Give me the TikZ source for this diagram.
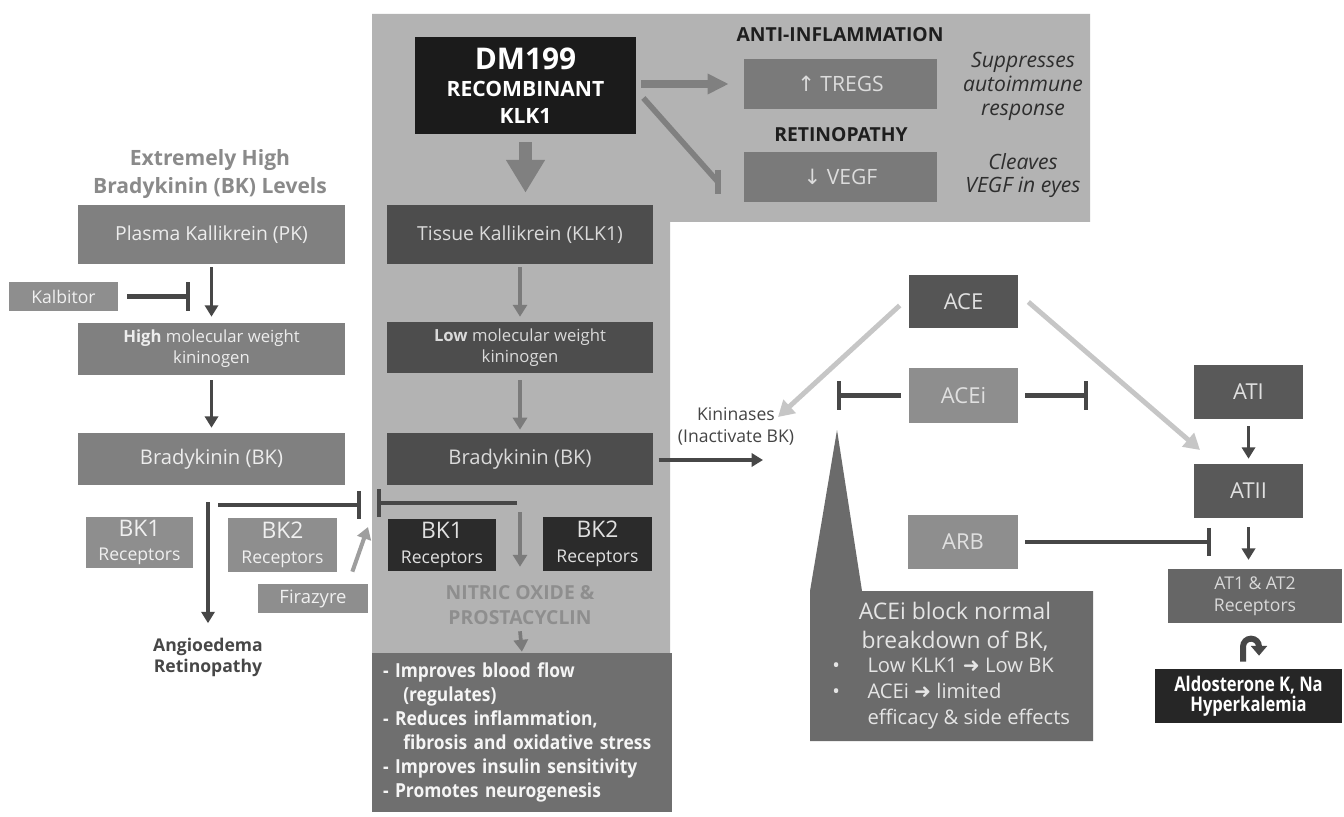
\documentclass[tikz,border=0pt]{standalone}
\usepackage{fontspec}
\setmainfont{Open Sans}
\newfontfamily\symfont{DejaVu Sans}
\newfontfamily\condfont[FakeStretch=0.82]{Open Sans}
\newfontfamily\narrowfont[FakeStretch=0.9]{Open Sans}
\usetikzlibrary{arrows.meta,calc}

\definecolor{panel}{HTML}{B3B3B3}
\definecolor{dmfill}{HTML}{1B1B1B}
\definecolor{tgfill}{HTML}{7A7A7A}
\definecolor{tgtext}{HTML}{DCDCDC}
\definecolor{plfill}{HTML}{808080}
\definecolor{pltext}{HTML}{EDEDED}
\definecolor{kfill}{HTML}{8E8E8E}
\definecolor{ktext}{HTML}{F0F0F0}
\definecolor{tkfill}{HTML}{4D4D4D}
\definecolor{tktext}{HTML}{DADADA}
\definecolor{rmfill}{HTML}{2B2B2B}
\definecolor{rmtext}{HTML}{E0E0E0}
\definecolor{efffill}{HTML}{6F6F6F}
\definecolor{acefill}{HTML}{555555}
\definecolor{acifill}{HTML}{8E8E8E}
\definecolor{atfill}{HTML}{595959}
\definecolor{atrfill}{HTML}{666666}
\definecolor{aldofill}{HTML}{262626}
\definecolor{callfill}{HTML}{6B6B6B}
\definecolor{dkline}{HTML}{474747}
\definecolor{mdline}{HTML}{7B7B7B}
\definecolor{fzline}{HTML}{9E9E9E}
\definecolor{aceline}{HTML}{C6C6C6}
\definecolor{fatline}{HTML}{808080}
\definecolor{hitext}{HTML}{8A8A8A}
\definecolor{notext}{HTML}{8E8E8E}
\definecolor{angtext}{HTML}{474747}
\definecolor{hdtext}{HTML}{1E1E1E}
\definecolor{ittext}{HTML}{2E2E2E}
\definecolor{kntext}{HTML}{444444}

\newcommand\fsz[2]{\fontsize{#1}{#2}\selectfont}

\begin{document}
\begin{tikzpicture}
  [x=0.02cm, y=-0.02cm,
   box/.style={rectangle, inner sep=0pt, align=center},
   sz/.style 2 args={minimum width=#1*0.02cm, minimum height=#2*0.02cm},
   plbox/.style={box, fill=plfill, text=pltext},
   kbox/.style={box, fill=kfill, text=ktext},
   tkbox/.style={box, fill=tkfill, text=tktext},
   rmbox/.style={box, fill=rmfill, text=rmtext, font=\fsz{10}{14}},
   tgbox/.style={box, fill=tgfill, text=tgtext, font=\fsz{12}{14}},
   acbox/.style={box, text=white!88!black, font=\fsz{12.5}{14}},
   dkarrow/.style={draw=dkline, line width=2.2pt, -{Triangle[width=7.5pt,length=6.5pt]}},
   mdarrow/.style={draw=mdline, line width=2.1pt, -{Triangle[width=8pt,length=6.8pt]}},
   fzarrow/.style={draw=fzline, line width=2.3pt, -{Triangle[width=8pt,length=6.8pt]}},
   acearrow/.style={draw=aceline, line width=2.8pt, -{Triangle[width=10pt,length=9pt]}},
   fatarrow/.style={draw=fatline, line width=4.5pt, -{Triangle[width=11pt,length=12pt]}},
   bigarrow/.style={draw=fatline, line width=7.9pt, -{Triangle[width=21pt,length=18.7pt]}},
   inhib/.style={draw=dkline, line width=2.5pt, -{Bar[width=16pt]}},
   fatinhib/.style={draw=fatline, line width=3.2pt},
  ]
  \useasboundingbox (0,0) rectangle (1344,817);
  \fill[white] (0,0) rectangle (1344,817);
  \fill[panel] (372,14) -- (1090,14) -- (1090,222) -- (670,222) -- (670,653) -- (372,653) -- cycle;

  % left pathway
  \node[font=\fsz{12}{16}\bfseries, text=hitext, align=center] (bk-title) at (210,174) {Extremely High\\Bradykinin (BK) Levels};
  \node[plbox, sz={267}{59}, font=\fsz{11}{13}] (pk) at (211.5,234.5) {Plasma Kallikrein (PK)};
  \node[kbox, sz={109}{29}, font=\fsz{10}{12}] (kalb) at (63.5,296.5) {Kalbitor};
  \node[plbox, sz={267}{52}, font=\fsz{9.5}{12}] (hmwk) at (211.5,349) {\textbf{High} molecular weight\\kininogen};
  \node[plbox, sz={267}{52}, font=\fsz{11.5}{13}] (bkl) at (211.5,459) {Bradykinin (BK)};
  \node[kbox, sz={107}{51}, font=\fsz{10}{14}] (bk1l) at (139.5,542.5) {{\fsz{13}{14}BK1}\\Receptors};
  \node[kbox, sz={109}{54}, font=\fsz{10}{14}] (bk2l) at (282.5,545) {{\fsz{13}{14}BK2}\\Receptors};
  \node[kbox, sz={110}{29}, font=\fsz{10.5}{12}] (fira) at (313,598.5) {Firazyre};
  \node[font=\fsz{10}{12}\bfseries, text=angtext, align=center] (angio) at (208,657.5) {Angioedema\\Retinopathy};

  \draw[dkarrow, shorten <=1.7pt, shorten >=3.4pt] (pk) -- (hmwk);
  \draw[dkarrow, shorten <=2.8pt, shorten >=2.8pt] (hmwk) -- (bkl);
  \draw[dkarrow, shorten <=9.6pt, shorten >=5pt] (bkl.south -| angio.north) -- (angio.north);
  \coordinate (kalb-bar) at (190,296.5);
  \draw[inhib, shorten <=5pt] (kalb) -- (kalb-bar);
  \coordinate (bkl-inh) at (218,505);
  \coordinate (bkl-bar) at (361,505);
  \draw[inhib] (bkl-inh) -- (bkl-bar);
  \coordinate (fira-tip) at (368,527);
  \draw[fzarrow] ($(fira.north east)+(-16,-12)$) -- (fira-tip);

  % DM199 and tissue kallikrein pathway
  \node[box, fill=dmfill, text=white, sz={221}{97}, font=\fsz{12}{15.5}\bfseries] (dm) at (525.5,85.5)
    {{\fsz{17}{15.5}DM199}\\RECOMBINANT\\KLK1};
  \node[font=\fsz{11}{13}\bfseries, text=hdtext] (antiinf) at (840,35) {ANTI-INFLAMMATION};
  \node[tgbox, sz={193}{50}] (tregs) at (840.5,84) {{\symfont ↑} TREGS};
  \node[font=\fsz{11}{13}\bfseries, text=hdtext] (retino) at (841,135) {RETINOPATHY};
  \node[tgbox, sz={193}{50}] (vegf) at (840.5,177) {{\symfont ↓} VEGF};
  \node[font=\fsz{12}{13.6}\itshape, text=ittext, align=center] (supp) at (1023,86) {Suppresses\\autoimmune\\response};
  \node[font=\fsz{12}{13.6}\itshape, text=ittext, align=center] (cleav) at (1023,175.5) {Cleaves\\VEGF in eyes};

  \node[tkbox, sz={266}{59}, font=\fsz{11}{13}] (tk) at (520,234.5) {Tissue Kallikrein (KLK1)};
  \node[tkbox, sz={266}{51}, font=\fsz{9.5}{12}] (lmwk) at (520,347.5) {\textbf{Low} molecular weight\\kininogen};
  \node[tkbox, sz={266}{52}, font=\fsz{11.5}{13}] (bkm) at (520,459) {Bradykinin (BK)};
  \node[rmbox, sz={108}{52}] (bk1m) at (442,545) {{\fsz{13}{14}BK1}\\Receptors};
  \node[rmbox, sz={109}{54}] (bk2m) at (597.5,544) {{\fsz{13}{14}BK2}\\Receptors};
  \node[font=\fsz{11}{14.2}\bfseries, text=notext, align=center] (noxide) at (520,605.5) {NITRIC OXIDE \&\\PROSTACYCLIN};
  \node[rectangle, fill=efffill, text=white!96!black, sz={300}{159}, inner xsep=11*0.02cm, inner ysep=0pt,
        text width=278*0.02cm, align=left, font=\narrowfont\fsz{11}{13.6}\bfseries] (effects) at (522,732.5)
    {- Improves blood flow\\
     \hspace*{1.05em}(regulates)\\
     - Reduces inflammation,\\
     \hspace*{1.05em}fibrosis and oxidative stress\\
     - Improves insulin sensitivity\\
     - Promotes neurogenesis};

  \draw[bigarrow, shorten <=4.5pt, shorten >=6.8pt] (dm.south) -- (dm.south |- tk.north);
  \draw[fatarrow, shorten <=2.8pt, shorten >=8.5pt] (dm.east |- tregs.west) -- (tregs.west);
  \coordinate (vegf-bar) at (718,182);
  \draw[fatinhib] ($(dm.east)+(7,12.5)$) -- (vegf-bar);
  \draw[fatinhib] ($(vegf-bar)+(0,-12)$) -- ($(vegf-bar)+(0,12)$);
  \draw[mdarrow, shorten <=1.7pt, shorten >=2.8pt] (tk) -- (lmwk);
  \draw[mdarrow, shorten <=4pt, shorten >=1.7pt] (lmwk) -- (bkm);
  \draw[mdarrow, shorten <=15.3pt, shorten >=7.4pt] (bkm.south) -- (noxide.north);
  \draw[mdarrow, shorten <=0pt, shorten >=0.5pt] (noxide.south) -- (effects.north);
  \coordinate (bkm-inh) at (517,503);
  \coordinate (bkm-bar) at (377,503);
  \draw[inhib] (bkm-inh) -- (bkm-bar);

  % ACE side
  \node[font=\fsz{10}{12.5}, text=kntext, align=center] (kin) at (736,426) {Kininases\\(Inactivate BK)};
  \node[acbox, fill=acefill, sz={109}{53}] (ace) at (963.5,301.5) {ACE};
  \node[acbox, fill=acifill, sz={109}{55}] (acei) at (963.5,395.5) {ACEi};
  \node[acbox, fill=acifill, sz={110}{54}] (arb) at (963,542) {ARB};
  \node[acbox, fill=atfill, sz={109}{54}] (ati) at (1248.5,392) {ATI};
  \node[acbox, fill=atfill, sz={109}{54}] (atii) at (1248.5,491) {ATII};
  \node[box, fill=atrfill, text=white!85!black, sz={174}{54}, font=\fsz{10}{12.5}] (atr) at (1255,596) {AT1 \& AT2\\Receptors};
  \node[box, fill=aldofill, text=white, sz={187}{54}, font=\condfont\fsz{11.5}{11.5}\bfseries] (aldo) at (1248.5,696) {Aldosterone K, Na\\Hyperkalemia};

  \coordinate (bk-out) at (763,460);
  \draw[dkarrow, shorten <=3pt] (bkm.east |- bk-out) -- (bk-out);
  \coordinate (kin-tip) at (778,417);
  \draw[acearrow] ($(ace.west)+(-9,4)$) -- (kin-tip);
  \coordinate (at-tip) at (1200,450);
  \draw[acearrow] ($(ace.east)+(10,0.5)$) -- (at-tip);
  \coordinate (acei-lbar) at (837,395.5);
  \coordinate (acei-rbar) at (1088,395.5);
  \draw[inhib, shorten <=4.5pt] (acei.west) -- (acei-lbar);
  \draw[inhib, shorten <=4pt] (acei.east) -- (acei-rbar);
  \coordinate (arb-bar) at (1211,542);
  \draw[inhib, shorten <=4pt] (arb.east) -- (arb-bar);
  \draw[dkarrow, shorten <=4pt, shorten >=2.8pt] (ati) -- (atii);
  \draw[dkarrow, shorten <=5pt, shorten >=5pt] (atii.south) -- (atii.south |- atr.north);
  \draw[draw=dkline, line width=3.4pt, -{Triangle[width=9pt,length=5.5pt]}]
    ($(aldo.north)+(-5.5,-7)$) -- ++(0,-15) arc[start angle=180, end angle=360, radius=8] -- ++(0,9);

  % callout
  \fill[callfill] (837,430) -- (862,591) -- (1093,591) -- (1093,741) -- (810,741) -- (810,591) -- cycle;
  \node[font=\fsz{13}{16.4}, text=white!90!black, align=center] (note-head) at (955,626.5) {ACEi block normal\\breakdown of BK,};
  \node[font=\fsz{11.5}{14.7}, text=white!90!black, align=left, anchor=west, inner sep=0pt] (note-list) at (832,694)
    {\makebox[20pt][l]{•}Low KLK1 {\symfont ➜} Low BK\\
     \makebox[20pt][l]{•}ACEi {\symfont ➜} limited\\
     \makebox[20pt][l]{}efficacy \& side effects};
\end{tikzpicture}
\end{document}
